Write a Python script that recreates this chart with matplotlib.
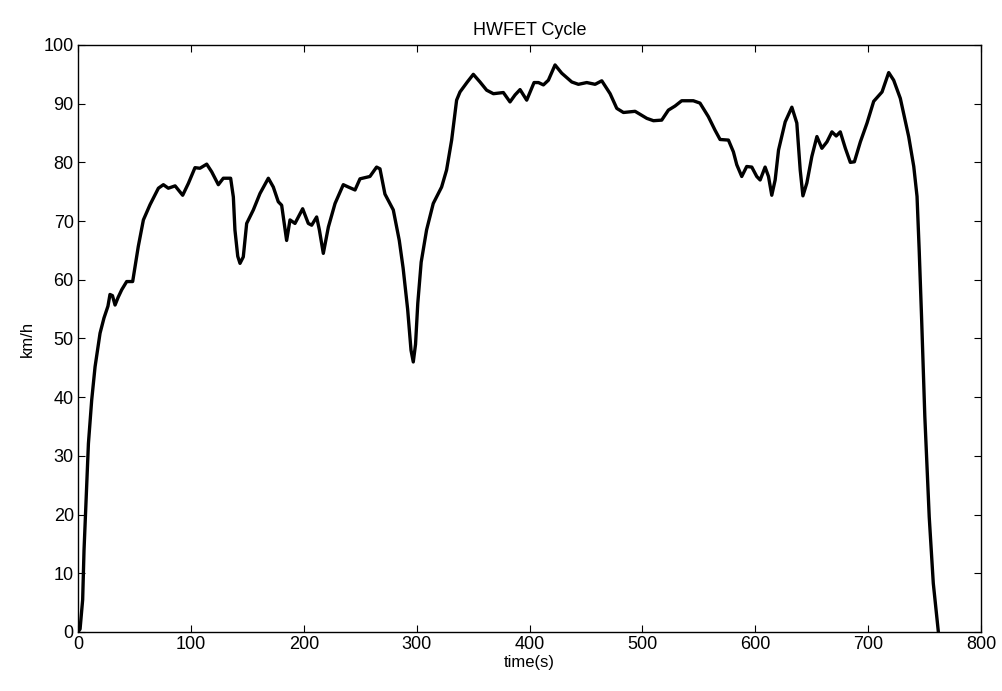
import matplotlib
matplotlib.use("Agg")
import matplotlib.pyplot as plt
import numpy as np

# HWFET speed trace
time_s = [0, 1.8, 4.1, 5.3, 7.1, 9.2, 12.1, 15.1, 19.5, 23, 26.5, 28.3, 30.5, 32.8,
          35.5, 38.7, 43.1, 48.4, 53.4, 57.9, 63.8, 71.2, 75.6, 80, 86, 92.7,
          97.7, 103.6, 108, 114, 118.4, 124.3, 128.7, 135.2, 137.6, 139, 141.5,
          143.5, 146.4, 149.4, 155.3, 161.2, 168.6, 173, 177.4, 180.4, 184.8,
          187.8, 192.2, 195.2, 199, 204, 207, 211.4, 213.8, 217.3, 221.8,
          227.7, 235, 239.5, 245.4, 249.8, 258.6, 264.5, 267.5, 271.9, 279.3,
          284.6, 288, 292, 295, 297, 299, 301, 304, 308.8, 314.7, 322.1, 326.5,
          331, 335.4, 338.4, 344.9, 350.2, 356.1, 362, 368, 376.8, 382.7, 387.2,
          391.6, 397.5, 404, 407.9, 412.3, 416.7, 422.6, 428.5, 437.4, 443.3,
          450.7, 458.1, 464, 471.4, 477.3, 483.2, 493.5, 503.9, 509.8, 517.1,
          523, 528.9, 534.8, 545.1, 551, 558.4, 564.3, 568.8, 576.2, 580.6,
          583.6, 588, 592.4, 596.9, 601.3, 604.3, 608.7, 611.7, 614.6, 617.6,
          620.6, 626.5, 632.4, 636.8, 639.8, 642.2, 645.7, 650.1, 654.6, 659,
          663.5, 667.9, 671.7, 675.3, 679.8, 684.2, 687.8, 693.1, 699, 704.9,
          712.3, 718.2, 722.6, 728.5, 735.9, 740.4, 743.3, 745.2, 747.3, 750.2,
          754.1, 757.7, 762.2]
speed_kmh = [0, 0.5, 5.5, 13.9, 22.5, 32.1, 39.5, 45.2, 50.9, 53.5, 55.5, 57.5, 57.3, 55.7,
             57.0, 58.3, 59.7, 59.7, 65.7, 70.2, 72.8, 75.6, 76.2, 75.6, 76, 74.4,
             76.4, 79.1, 79, 79.7, 78.4, 76.2, 77.3, 77.3, 74.1, 68.5, 64.0,
             62.8, 63.9, 69.6, 71.9, 74.7, 77.3, 75.8, 73.3, 72.7, 66.7,
             70.2, 69.6, 70.7, 72.1, 69.6, 69.3, 70.7, 68.5, 64.5, 69,
             73, 76.2, 75.8, 75.3, 77.2, 77.6, 79.2, 78.9, 74.6, 71.9,
             66.7, 62, 55, 48, 46, 49, 56, 63, 68.5, 73.0, 75.8, 78.7,
             83.8, 90.6, 92.0, 93.7, 95, 93.7, 92.3, 91.7, 91.9, 90.3, 91.5,
             92.4, 90.6, 93.6, 93.6, 93.2, 94, 96.6, 95.2, 93.7, 93.3,
             93.6, 93.3, 93.9, 91.7, 89.2, 88.5, 88.7, 87.5, 87.1, 87.2,
             88.9, 89.6, 90.5, 90.5, 90.1, 87.8, 85.5, 83.9, 83.8, 81.8,
             79.6, 77.6, 79.3, 79.2, 77.6, 77, 79.2, 77.6, 74.4, 77,
             82.1, 86.9, 89.4, 86.7, 78.7, 74.3, 76.5, 81, 84.4, 82.4,
             83.5, 85.2, 84.5, 85.2, 82.4, 80, 80.1, 83.5, 86.7, 90.4,
             92.0, 95.3, 94.0, 90.9, 84.4, 79.3, 74.2, 65.1, 53.7, 36.7,
             19.6, 8.3, 0]

x_ticks = np.arange(0, 801, 100)
y_ticks = np.arange(0, 101, 10)

plt.rcParams['font.family'] = ['Liberation Sans', 'DejaVu Sans']

fig = plt.figure(figsize=(10.03, 6.91), dpi=100)
ax = fig.add_axes([0.0778, 0.0854, 0.9003, 0.8495])

ax.plot(time_s, speed_kmh, color='black', linewidth=2.4)

ax.set_xlim(0, 800)
ax.set_ylim(0, 100)
ax.set_xticks(x_ticks)
ax.set_yticks(y_ticks)
ax.tick_params(direction='in', top=True, right=True, length=5, width=0.8,
               labelsize=13, pad=3)
for sp in ax.spines.values():
    sp.set_linewidth(1.0)

ax.set_title('HWFET Cycle', fontsize=13, pad=7)
ax.set_xlabel('time(s)', fontsize=12, labelpad=1)
ax.set_ylabel('km/h', fontsize=12, labelpad=6)

fig.savefig('out.png', dpi=100)
